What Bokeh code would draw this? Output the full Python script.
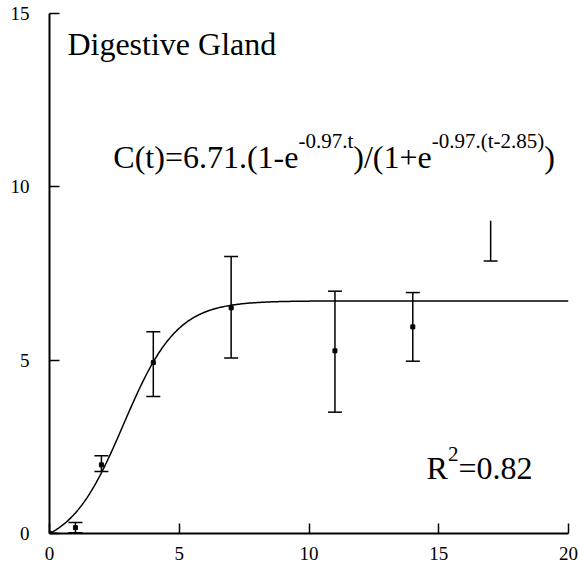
import numpy as np
from bokeh.plotting import figure
from bokeh.models import Label, FixedTicker, Range1d
from bokeh.embed import file_html
from bokeh.resources import INLINE

# ---- data ----
times = [0, 1, 2, 4, 7, 11, 14]
means = [0.0, 0.17, 1.98, 4.93, 6.51, 5.27, 5.96]
lower = [0.0, 0.02, 1.79, 3.95, 5.06, 3.50, 4.97]
upper = [0.0, 0.32, 2.24, 5.82, 7.99, 6.99, 6.95]
# bar at t=17 shown only as a stem with its lower cap
partial_t = [17]
partial_lower = [7.86]
partial_upper = [9.02]

# fitted model stated on the chart
fit_A = 6.71
fit_k = 0.97
fit_t0 = 2.85
r_squared = 0.82

x_ticks = [0, 5, 10, 15, 20]
y_ticks = [0, 5, 10, 15]

FONT = "Liberation Serif"

p = figure(width=579, height=571, x_range=Range1d(0, 20), y_range=Range1d(0, 15),
           output_backend="svg", toolbar_location=None,
           min_border_left=49, min_border_right=11, min_border_top=13, min_border_bottom=38)
p.grid.visible = False
p.outline_line_color = None

for ax, ticks in ((p.xaxis, x_ticks), (p.yaxis, y_ticks)):
    ax.ticker = FixedTicker(ticks=ticks)
    ax.major_tick_in = 10
    ax.major_tick_out = 0
    ax.minor_tick_line_color = None
    ax.axis_line_width = 2
    ax.axis_line_color = "black"
    ax.major_tick_line_width = 1.5
    ax.major_tick_line_color = "black"
    ax.major_label_text_font = FONT
    ax.major_label_text_font_size = "19px"
    ax.major_label_text_color = "black"
p.xaxis.major_label_standoff = 13
p.yaxis.major_label_standoff = 20

# fitted curve
t_fit = np.linspace(0, 20, 401)
c_fit = fit_A * (1 - np.exp(-fit_k * t_fit)) / (1 + np.exp(-fit_k * (t_fit - fit_t0)))
p.line(t_fit, c_fit, line_color="black", line_width=1.5)

# error bars: stems + caps
p.segment(x0=times, y0=lower, x1=times, y1=upper, line_color="black", line_width=1.5)
p.scatter(times, upper, marker="dash", size=14, line_color="black", line_width=1.5)
p.scatter(times, lower, marker="dash", size=14, line_color="black", line_width=1.5)
p.segment(x0=partial_t, y0=partial_lower, x1=partial_t, y1=partial_upper,
          line_color="black", line_width=1.5)
p.scatter(partial_t, partial_lower, marker="dash", size=14, line_color="black", line_width=1.5)
p.scatter(times, means, marker="square", size=4, color="black")

# ---- text ----
W = {'C': .667, '(': .333, ')': .333, 't': .278, '=': .564, '.': .25, '-': .333,
     'e': .444, '/': .278, '+': .564, 'R': .667, ' ': .25}
for d in "0123456789":
    W[d] = .5


def tw(s, size):
    return sum(W.get(c, .5) for c in s) * size


LIFT = 10  # screen-px correction of the alphabetic baseline


def rich_label(x, y, parts):
    off = 0.0
    for text, size, rise in parts:
        p.add_layout(Label(x=x, y=y, x_offset=off, y_offset=LIFT + rise, text=text,
                           text_font=FONT, text_font_size=f"{size}px",
                           text_baseline="alphabetic", text_align="left",
                           text_color="black"))
        off += tw(text, size)


MAIN, SUP, RISE = 32, 21, 16
rich_label(0.69, 13.83, [("Digestive Gland", MAIN, 0)])

rich_label(2.46, 10.56, [
    (f"C(t)={fit_A}.(1-e", MAIN, 0),
    (f"-{fit_k}.t", SUP, RISE),
    (")/(1+e", MAIN, 0),
    (f"-{fit_k}.(t-{fit_t0})", SUP, RISE),
    (")", MAIN, 0),
])

rich_label(14.53, 1.61, [
    ("R", MAIN, 0),
    ("2", SUP, RISE - 2),
    (f"={r_squared}", MAIN, 0),
])

open("out.html", "w").write(file_html(p, INLINE))
